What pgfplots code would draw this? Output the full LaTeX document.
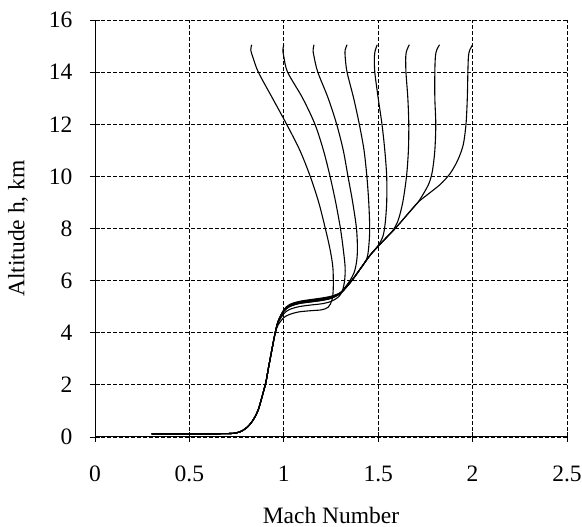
\documentclass[border=0pt]{standalone}
\usepackage{fontspec}
\setmainfont{Liberation Serif}
\usepackage{pgfplots}
\pgfplotsset{compat=1.18}
\begin{document}
\begin{tikzpicture}
\useasboundingbox (0,0) rectangle (582pt,527pt);
\begin{axis}[
  at={(95pt,90pt)}, anchor=south west,
  scale only axis, width=472pt, height=417pt,
  xmin=0, xmax=2.5, ymin=0, ymax=16,
  xtick={0,0.5,1,1.5,2,2.5}, ytick={0,2,4,6,8,10,12,14,16},
  axis lines=left, axis line style={-, line width=1pt},
  axis on top,
  grid=major, major grid style={black, line width=0.9pt, dash pattern=on 3.5pt off 2.5pt},
  tick style={black, line width=0.9pt}, tick align=center, major tick length=10pt,
  /pgf/number format/assume math mode=true,
  ticklabel style={font=\fontsize{23.5}{27}\selectfont},
  xticklabel style={yshift=-20pt},
  yticklabel style={xshift=-14pt},
  label style={font=\fontsize{23.5}{27}\selectfont},
  xlabel={Mach Number}, ylabel={Altitude h, km},
  xlabel style={at={(axis description cs:0.5,-0.187)}, anchor=center},
  ylabel style={at={(axis description cs:-0.163,0.5)}, anchor=center},
  cycle list={{black, mark=none}},
  every axis plot post/.append style={black, line width=1.1pt, mark=none, smooth, tension=0.5},
]
% curve 1
\addplot coordinates {(0.30,0.12) (0.50,0.12) (0.70,0.13) (0.75,0.16) (0.78,0.24) (0.81,0.40) (0.84,0.68) (0.865,1.05) (0.885,1.55) (0.905,2.1) (0.92,2.7) (0.937,3.35) (0.953,3.95)
 (0.97,4.3) (1.0,4.58) (1.03,4.7) (1.08,4.8) (1.15,4.85) (1.2,4.88) (1.235,4.98) (1.255,5.25) (1.262,5.7) (1.26,6.5) (1.245,7.2) (1.22,8) (1.185,9) (1.14,10) (1.085,11) (1.015,12) (0.94,13) (0.865,14) (0.835,14.6) (0.825,14.85) (0.83,15.05)};
% curve 2
\addplot coordinates {(0.30,0.12) (0.50,0.12) (0.70,0.13) (0.75,0.16) (0.78,0.24) (0.81,0.40) (0.84,0.68) (0.865,1.05) (0.885,1.55) (0.905,2.1) (0.92,2.7) (0.937,3.35) (0.953,3.95)
 (0.97,4.38) (1.0,4.73) (1.03,4.89) (1.08,5.0) (1.15,5.07) (1.2,5.11) (1.25,5.2) (1.29,5.38) (1.31,5.6) (1.322,6.0) (1.325,6.5) (1.315,7.2) (1.30,8) (1.275,9) (1.245,10) (1.21,11) (1.165,12) (1.10,13) (1.02,14) (1.0,14.6) (0.995,14.85) (1.0,15.05)};
% curve 3
\addplot coordinates {(0.30,0.12) (0.50,0.12) (0.70,0.13) (0.75,0.16) (0.78,0.24) (0.81,0.40) (0.84,0.68) (0.865,1.05) (0.885,1.55) (0.905,2.1) (0.92,2.7) (0.937,3.35) (0.953,3.95)
 (0.97,4.42) (1.0,4.82) (1.03,5.0) (1.08,5.12) (1.15,5.19) (1.2,5.24) (1.25,5.32) (1.29,5.46) (1.32,5.7) (1.35,6.0) (1.372,6.3) (1.385,6.7) (1.39,7.2) (1.385,8) (1.365,9) (1.34,10) (1.315,11) (1.28,12) (1.235,13) (1.18,14) (1.16,14.6) (1.155,14.85) (1.16,15.05)};
% curve 4
\addplot coordinates {(0.30,0.12) (0.50,0.12) (0.70,0.13) (0.75,0.16) (0.78,0.24) (0.81,0.40) (0.84,0.68) (0.865,1.05) (0.885,1.55) (0.905,2.1) (0.92,2.7) (0.937,3.35) (0.953,3.95)
 (0.97,4.43) (1.0,4.85) (1.03,5.04) (1.08,5.16) (1.15,5.24) (1.2,5.29) (1.25,5.36) (1.29,5.48) (1.31,5.6) (1.36,6.0) (1.41,6.5) (1.44,6.85) (1.45,7.3) (1.455,8) (1.45,9) (1.44,10) (1.425,11) (1.40,12) (1.37,13) (1.335,14) (1.325,14.6) (1.325,14.85) (1.335,15.05)};
% curve 5
\addplot coordinates {(0.30,0.12) (0.50,0.12) (0.70,0.13) (0.75,0.16) (0.78,0.24) (0.81,0.40) (0.84,0.68) (0.865,1.05) (0.885,1.55) (0.905,2.1) (0.92,2.7) (0.937,3.35) (0.953,3.95)
 (0.97,4.45) (1.0,4.88) (1.03,5.08) (1.08,5.2) (1.15,5.28) (1.2,5.33) (1.25,5.4) (1.29,5.5) (1.31,5.58) (1.36,6.0) (1.41,6.5) (1.46,7.0) (1.5,7.35) (1.525,7.7) (1.537,8.2) (1.545,9) (1.545,10) (1.535,11) (1.52,12) (1.50,13) (1.482,14) (1.48,14.6) (1.485,14.85) (1.495,15.05)};
% curve 6
\addplot coordinates {(0.30,0.12) (0.50,0.12) (0.70,0.13) (0.75,0.16) (0.78,0.24) (0.81,0.40) (0.84,0.68) (0.865,1.05) (0.885,1.55) (0.905,2.1) (0.92,2.7) (0.937,3.35) (0.953,3.95)
 (0.97,4.43) (1.0,4.83) (1.03,5.02) (1.08,5.14) (1.15,5.22) (1.2,5.26) (1.25,5.34) (1.29,5.47) (1.31,5.58) (1.36,6.0) (1.41,6.5) (1.46,7.0) (1.53,7.55) (1.575,7.9) (1.605,8.3) (1.63,9) (1.65,10) (1.66,11) (1.662,12) (1.657,13) (1.647,14) (1.646,14.6) (1.652,14.85) (1.665,15.05)};
% curve 7
\addplot coordinates {(0.30,0.12) (0.50,0.12) (0.70,0.13) (0.75,0.16) (0.78,0.24) (0.81,0.40) (0.84,0.68) (0.865,1.05) (0.885,1.55) (0.905,2.1) (0.92,2.7) (0.937,3.35) (0.953,3.95)
 (0.97,4.44) (1.0,4.86) (1.03,5.06) (1.08,5.18) (1.15,5.26) (1.2,5.31) (1.25,5.38) (1.29,5.49) (1.31,5.58) (1.36,6.0) (1.41,6.5) (1.46,7.0) (1.53,7.55) (1.59,8.0) (1.65,8.5) (1.71,9.0) (1.745,9.4) (1.77,9.75) (1.787,10.2) (1.80,11) (1.805,12) (1.80,13) (1.80,14) (1.803,14.6) (1.81,14.85) (1.825,15.05)};
% curve 8
\addplot coordinates {(0.30,0.12) (0.50,0.12) (0.70,0.13) (0.75,0.16) (0.78,0.24) (0.81,0.40) (0.84,0.68) (0.865,1.05) (0.885,1.55) (0.905,2.1) (0.92,2.7) (0.937,3.35) (0.953,3.95)
 (0.97,4.42) (1.0,4.82) (1.03,5.0) (1.08,5.12) (1.15,5.19) (1.2,5.24) (1.25,5.32) (1.29,5.46) (1.31,5.57) (1.36,6.0) (1.41,6.5) (1.46,7.0) (1.53,7.55) (1.59,8.0) (1.65,8.5) (1.71,9.0) (1.77,9.35) (1.83,9.7) (1.88,10.1) (1.92,10.6) (1.95,11.2) (1.965,12) (1.972,13) (1.975,14) (1.978,14.6) (1.985,14.85) (2.0,15.05)};
\end{axis}
\end{tikzpicture}
\end{document}
